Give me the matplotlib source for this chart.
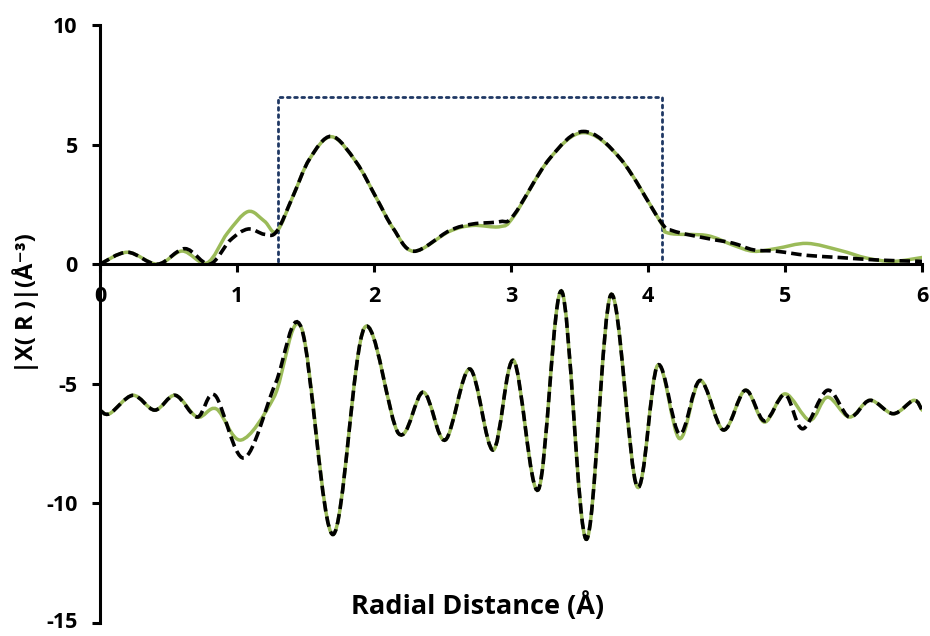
import matplotlib
matplotlib.use('Agg')
import matplotlib.pyplot as plt
from matplotlib.path import Path
from matplotlib.patches import PathPatch
from matplotlib.transforms import ScaledTranslation
import numpy as np

plt.rcParams['font.family'] = ['Open Sans', 'DejaVu Sans']
plt.rcParams['font.weight'] = 'bold'
plt.rcParams['axes.unicode_minus'] = False

# |X(R)| magnitude, data (green) and fit (black dashed)
mag_data_x = [0.00, 0.20, 0.42, 0.60, 0.78, 0.93, 1.08, 1.20, 1.29, 1.41, 1.53, 1.69, 1.87, 2.02,
              2.14, 2.29, 2.55, 2.72, 2.92, 3.02, 3.28, 3.53, 3.80, 4.09, 4.15, 4.43, 4.62, 4.77,
              4.94, 5.16, 5.40, 5.60, 5.79, 6.00]
mag_data_y = [0.00, 0.50, 0.00, 0.55, 0.05, 1.30, 2.20, 1.80, 1.37, 2.86, 4.40, 5.33, 4.27, 2.74,
              1.50, 0.54, 1.37, 1.62, 1.57, 2.00, 4.40, 5.50, 4.40, 1.78, 1.30, 1.20, 0.80, 0.54,
              0.66, 0.87, 0.58, 0.25, 0.12, 0.28]

mag_fit_x = [0.00, 0.20, 0.42, 0.62, 0.80, 0.95, 1.08, 1.20, 1.29, 1.41, 1.53, 1.69, 1.87, 2.02,
             2.14, 2.29, 2.55, 2.72, 2.92, 3.02, 3.28, 3.53, 3.80, 4.09, 4.18, 4.43, 4.62, 4.77,
             4.94, 5.16, 5.40, 5.60, 5.79, 6.00]
mag_fit_y = [0.00, 0.50, 0.00, 0.65, 0.00, 1.00, 1.47, 1.25, 1.37, 2.86, 4.40, 5.35, 4.27, 2.74,
             1.50, 0.54, 1.40, 1.68, 1.78, 2.05, 4.40, 5.55, 4.40, 1.80, 1.40, 1.08, 0.88, 0.60,
             0.54, 0.37, 0.28, 0.20, 0.15, 0.12]

# real part (offset), data (green) and fit (black dashed)
re_data_x = [0.00, 0.07, 0.24, 0.40, 0.55, 0.71, 0.85, 1.03, 1.27, 1.47, 1.70, 1.93, 2.18, 2.36,
             2.52, 2.70, 2.87, 3.02, 3.20, 3.37, 3.55, 3.73, 3.92, 4.07, 4.23, 4.38, 4.55, 4.71,
             4.85, 5.00, 5.18, 5.31, 5.47, 5.62, 5.79, 5.94, 6.00]
re_data_y = [-6.10, -6.25, -5.48, -6.10, -5.48, -6.39, -6.05, -7.35, -5.56, -2.66, -11.30, -2.66,
             -7.08, -5.35, -7.35, -4.38, -7.77, -4.03, -9.42, -1.13, -11.50, -1.27, -9.30, -4.23,
             -7.29, -4.86, -6.93, -5.27, -6.60, -5.42, -6.52, -5.56, -6.39, -5.69, -6.25, -5.69,
             -6.10]

re_fit_x = [0.00, 0.07, 0.24, 0.40, 0.55, 0.71, 0.84, 1.05, 1.28, 1.47, 1.70, 1.93, 2.18, 2.36,
            2.52, 2.70, 2.87, 3.02, 3.20, 3.37, 3.55, 3.73, 3.92, 4.07, 4.23, 4.38, 4.55, 4.71,
            4.85, 5.00, 5.13, 5.31, 5.47, 5.62, 5.79, 5.94, 6.00]
re_fit_y = [-6.10, -6.25, -5.48, -6.10, -5.48, -6.39, -5.48, -8.10, -5.00, -2.66, -11.30, -2.66,
            -7.08, -5.35, -7.35, -4.38, -7.77, -4.03, -9.42, -1.13, -11.50, -1.27, -9.30, -4.23,
            -7.10, -4.86, -6.93, -5.27, -6.55, -5.45, -6.88, -5.27, -6.39, -5.69, -6.25, -5.69,
            -6.10]

# window function
win_x = [0, 1.3, 1.3, 4.1, 4.1, 6]
win_y = [0, 0, 7, 7, 0, 0]


def smooth_path(xs, ys):
    # excel style smoothed line (catmull-rom as bezier segments)
    pts = np.column_stack([xs, ys]).astype(float)
    ext = np.vstack([pts[0], pts, pts[-1]])
    verts = [pts[0]]
    codes = [Path.MOVETO]
    for i in range(len(pts) - 1):
        p0, p1, p2, p3 = ext[i], ext[i + 1], ext[i + 2], ext[i + 3]
        verts += [p1 + (p2 - p0) / 6, p2 - (p3 - p1) / 6, p2]
        codes += [Path.CURVE4] * 3
    return Path(verts, codes)


fig = plt.figure(figsize=(9.3, 6.36), dpi=100)
ax = fig.add_axes([0.1075, 0.0204, 0.8839, 0.9403])

green = '#9BBB59'
ax.plot(win_x, win_y, linestyle=(0, (1, 1.6)), color='#1F3864', lw=2.0,
        dash_capstyle='round', zorder=1)

for xs, ys in [(mag_data_x, mag_data_y), (re_data_x, re_data_y)]:
    ax.add_patch(PathPatch(smooth_path(xs, ys), fill=False, edgecolor=green, lw=2.5,
                           zorder=2, capstyle='round'))
for xs, ys in [(mag_fit_x, mag_fit_y), (re_fit_x, re_fit_y)]:
    ax.add_patch(PathPatch(smooth_path(xs, ys), fill=False, edgecolor='black', lw=2.6,
                           linestyle=(0, (2.9, 1.4)), capstyle='butt', zorder=3))

ax.set_xlim(0, 6)
ax.set_ylim(-15, 10)
ax.set_xticks(range(0, 7))
ax.set_yticks(range(-15, 11, 5))

ax.spines['top'].set_visible(False)
ax.spines['right'].set_visible(False)
ax.spines['bottom'].set_position(('data', 0))
ax.spines['bottom'].set_linewidth(2.2)
ax.spines['left'].set_linewidth(2.2)
ax.spines['bottom'].set_zorder(4)
ax.tick_params(axis='x', direction='out', length=6, width=2.2, pad=10, labelsize=15.5)
ax.tick_params(axis='y', direction='out', length=6, width=2.2, pad=10, labelsize=15.5)
for lab in ax.get_xticklabels() + ax.get_yticklabels():
    lab.set_fontweight('bold')

# keep the lowest label inside the figure
low = ax.yaxis.get_major_ticks()[0].label1
low.set_transform(low.get_transform() + ScaledTranslation(0, 2.5 / 72, fig.dpi_scale_trans))

fig.text(478 / 930, 1 - 606 / 636, 'Radial Distance (Å)', ha='center', va='center',
         fontsize=19.5, fontweight='bold')
fig.text(26 / 930, 1 - 303 / 636, '|X( R )|(Å⁻³)', ha='center', va='center',
         rotation=90, fontsize=17, fontweight='bold')

plt.savefig('out.png', dpi=100)
